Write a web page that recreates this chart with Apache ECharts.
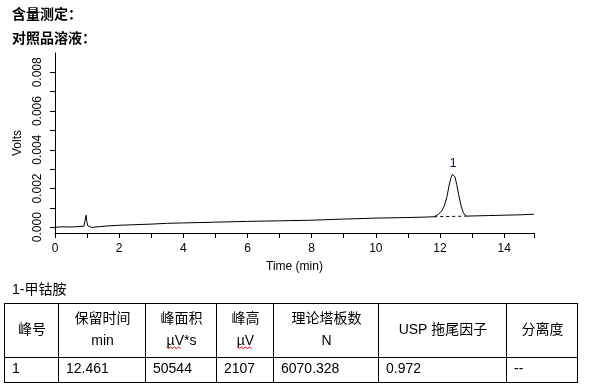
<!DOCTYPE html>
<html><head><meta charset="utf-8">
<script src="https://cdn.jsdelivr.net/npm/echarts@6/dist/echarts.min.js"></script>
<style>html,body{margin:0;padding:0;background:#fff}#c{width:589px;height:391px}</style>
</head><body><div id="c"></div>
<script>
// ---- data ----
const timeMin = [0.0, 0.25, 0.5, 0.7, 0.9, 0.95, 0.97, 0.99, 1.02, 1.08, 1.15, 1.25, 1.4, 1.6, 2.0, 2.5, 3.0, 3.5, 4.0, 5.0, 6.0, 7.0, 8.0, 9.0, 10.0, 11.0, 11.5, 11.82,
  11.95, 12.05, 12.13, 12.21, 12.28, 12.34, 12.39, 12.43, 12.47, 12.52, 12.58, 12.66, 12.73, 12.81,
  13.0, 13.5, 14.0, 14.5, 14.93];
const volts = [0.00000, 0.00002, 0.00001, 0.00003, 0.00005, 0.00012, 0.00062, 0.00030, 0.00008, 0.00004, -0.00002, 0.00001, 0.00003, 0.00006, 0.00010, 0.00013, 0.00016, 0.00020, 0.00022, 0.00026, 0.00030, 0.00033, 0.00036, 0.00042, 0.00047, 0.00050, 0.00052, 0.00054,
  0.00066, 0.00083, 0.00109, 0.00152, 0.00212, 0.00256, 0.00273, 0.00273, 0.00259, 0.00221, 0.00169, 0.00109, 0.00074, 0.00057,
  0.00058, 0.00060, 0.00062, 0.00064, 0.00067];
const baselineTime = [11.82, 12.81];
const baselineVolts = [0.00054, 0.00057];
const peakNames = ['1'];
const peakTime = [12.41];
const peakVolts = [0.00273];
const xTickValues = [0, 1, 2, 3, 4, 5, 6, 7, 8, 9, 10, 11, 12, 13, 14, 14.93];
const xLabelValues = [0, 2, 4, 6, 8, 10, 12, 14];
const yTickValues = [0, 0.001, 0.002, 0.003, 0.004, 0.005, 0.006, 0.007, 0.008];
const yLabelValues = [0, 0.002, 0.004, 0.006, 0.008];
const titleLines = ['含量测定：', '对照品溶液：'];
const compoundName = '1-甲钴胺';
const tableHeader1 = ['峰号', '保留时间', '峰面积', '峰高', '理论塔板数', 'USP 拖尾因子', '分离度'];
const tableHeader2 = ['', 'min', 'µV*s', 'µV', 'N', '', ''];
const tableRow = ['1', '12.461', '50544', '2107', '6070.328', '0.972', '--'];

// ---- layout ----
const colX = [4, 58, 145, 216, 273, 378, 506, 577];
const rowY = [303, 357, 382];
const CJK = '"Noto Sans CJK SC", "Liberation Sans", sans-serif';
const ARIAL = '"Liberation Sans", Arial, sans-serif';
const fontMix = '14px "Liberation Sans", "Noto Sans CJK SC", sans-serif';

const graphics = [];
titleLines.forEach((t, i) => {
  graphics.push({type: 'text', x: 12, y: 14 + i * 24, style: {text: t, font: 'bold 14px ' + CJK, fill: '#000', align: 'left', verticalAlign: 'middle'}});
});
graphics.push({type: 'text', x: 12, y: 290, style: {text: compoundName, font: fontMix, fill: '#000', align: 'left', verticalAlign: 'middle'}});
rowY.forEach(y => {
  graphics.push({type: 'line', shape: {x1: colX[0], y1: y + 0.5, x2: colX[colX.length - 1] + 1, y2: y + 0.5}, style: {stroke: '#000', lineWidth: 1}});
});
colX.forEach(x => {
  graphics.push({type: 'line', shape: {x1: x + 0.5, y1: rowY[0], x2: x + 0.5, y2: rowY[2] + 1}, style: {stroke: '#000', lineWidth: 1}});
});
tableHeader1.forEach((h, i) => {
  const cx = (colX[i] + colX[i + 1]) / 2 + 1;
  const two = tableHeader2[i] !== '';
  graphics.push({type: 'text', x: cx, y: two ? 319 : 330, style: {text: h, font: fontMix, fill: '#000', align: 'center', verticalAlign: 'middle'}});
  if (two) {
    graphics.push({type: 'text', x: cx, y: 341, style: {text: tableHeader2[i], font: fontMix, fill: '#000', align: 'center', verticalAlign: 'middle'}});
    if (tableHeader2[i].indexOf('µV') === 0) {
      // spell-check wavy underline under "µV"
      const w = 15, x0 = cx - (tableHeader2[i].length > 2 ? 15 : 8), pts = [];
      for (let k = 0; k <= w; k += 2) pts.push([x0 + k, 347 + (k % 4 === 0 ? 0 : 1.5)]);
      graphics.push({type: 'polyline', shape: {points: pts}, style: {stroke: '#e00000', lineWidth: 1, fill: null}});
    }
  }
});
tableRow.forEach((v, i) => {
  graphics.push({type: 'text', x: colX[i] + 8, y: 369, style: {text: v, font: fontMix, fill: '#000', align: 'left', verticalAlign: 'middle'}});
});

const chart = echarts.init(document.getElementById('c'), null, {renderer: 'canvas'});
chart.setOption({
  animation: false,
  backgroundColor: '#fff',
  grid: {left: 55, right: 55, top: 53, bottom: 158, containLabel: false},
  xAxis: {
    type: 'value', min: 0, max: 14.93,
    name: 'Time (min)', nameLocation: 'middle', nameGap: 28,
    nameTextStyle: {color: '#000', fontSize: 12, fontFamily: ARIAL},
    axisLine: {onZero: false, lineStyle: {color: '#000', width: 1}},
    axisTick: {show: true, length: 5, customValues: xTickValues, lineStyle: {color: '#000'}},
    axisLabel: {customValues: xLabelValues, color: '#000', fontSize: 12, fontFamily: ARIAL, margin: 10},
    splitLine: {show: false}
  },
  yAxis: {
    type: 'value', min: -0.0003, max: 0.009,
    name: 'Volts', nameLocation: 'middle', nameGap: 27,
    nameTextStyle: {color: '#000', fontSize: 12, fontFamily: ARIAL},
    axisLine: {show: true, lineStyle: {color: '#000', width: 1}},
    axisTick: {show: true, length: 5, customValues: yTickValues, lineStyle: {color: '#000'}},
    axisLabel: {customValues: yLabelValues, rotate: 90, color: '#000', fontSize: 12, fontFamily: ARIAL, margin: 11,
      formatter: v => v.toFixed(3)},
    splitLine: {show: false}
  },
  series: [
    {type: 'line', data: timeMin.map((t, i) => [t, volts[i]]), showSymbol: false, symbol: 'none',
      lineStyle: {color: '#000', width: 1}, silent: true},
    {type: 'line', data: baselineTime.map((t, i) => [t, baselineVolts[i]]), showSymbol: false, symbol: 'none',
      lineStyle: {color: '#000', width: 1, type: [3, 3]}, silent: true},
    {type: 'scatter', data: peakTime.map((t, i) => ({value: [t, peakVolts[i]], name: peakNames[i]})),
      symbol: 'circle', symbolSize: 1, itemStyle: {color: 'rgba(0,0,0,0)', opacity: 1},
      label: {show: true, position: 'top', distance: 4, formatter: p => p.name, color: '#1a0f5a', opacity: 1,
        fontSize: 13, fontFamily: ARIAL, textBorderWidth: 0}, silent: true}
  ],
  graphic: graphics
});
</script>
</body></html>
